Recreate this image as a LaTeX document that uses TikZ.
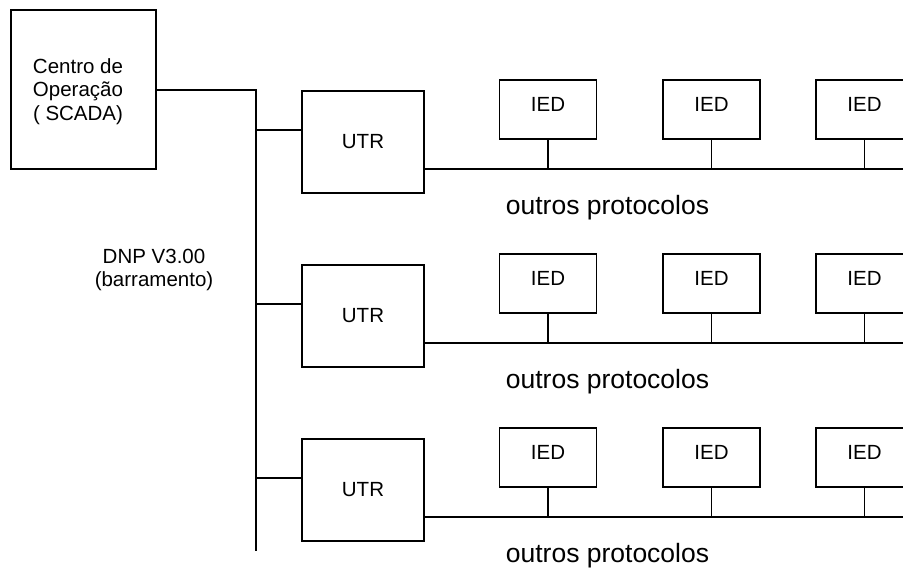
\documentclass[tikz,border=0pt]{standalone}
\usepackage{fontspec}
\setmainfont{Liberation Sans}
\begin{document}
\begin{tikzpicture}[x=1pt,y=-1pt,line width=1.5pt,
  box/.style={draw,rectangle,inner sep=0pt,font=\fontsize{20.5}{24}\selectfont},
  iedbox/.style={box,minimum width=97pt,minimum height=59pt,text depth=10pt},
  utrbox/.style={box,minimum width=122pt,minimum height=102pt},
  txt/.style={inner sep=0pt,font=\fontsize{20.5}{23.5}\selectfont,align=center},
  lbl/.style={inner sep=0pt,font=\fontsize{26.5}{30}\selectfont}]
\useasboundingbox (0,0) rectangle (903,569);
\clip (0,0) rectangle (903,569);
% operation centre
\node[box,minimum width=145pt,minimum height=159pt] (scada) at (83.5,89.5) {};
\node[txt] (scadatxt) at (78,91.5) {Centro de\\Opera\c{c}\~ao\\( SCADA)};
\coordinate (bustop) at (256,90);
\coordinate (busbot) at (256,551);
\draw (scada.east |- bustop) -- (bustop) -- (busbot);
\node[txt] (dnp) at (154,270) {DNP V3.00\\(barramento)};
\foreach \r/\dy in {1/0,2/174,3/348}{
  \node[utrbox] (utr\r) at (363,142+\dy) {UTR};
  \node[iedbox] (iedA\r) at (548,109.5+\dy) {IED};
  \node[iedbox] (iedB\r) at (711.5,109.5+\dy) {IED};
  \node[iedbox] (iedC\r) at (864.5,109.5+\dy) {IED};
  \coordinate (tap\r) at (256,130+\dy);
  \coordinate (end\r) at (903,169+\dy);
  \draw (tap\r) -- (utr\r.west |- tap\r);
  \draw (utr\r.east |- end\r) -- (end\r);
  \draw (iedA\r.south) -- (iedA\r.south |- end\r);
  \draw (iedB\r.south) -- (iedB\r.south |- end\r);
  \draw (iedC\r.south) -- (iedC\r.south |- end\r);
  \node[lbl] (out\r) at (607.5,208+\dy) {outros protocolos};
}
\end{tikzpicture}
\end{document}
